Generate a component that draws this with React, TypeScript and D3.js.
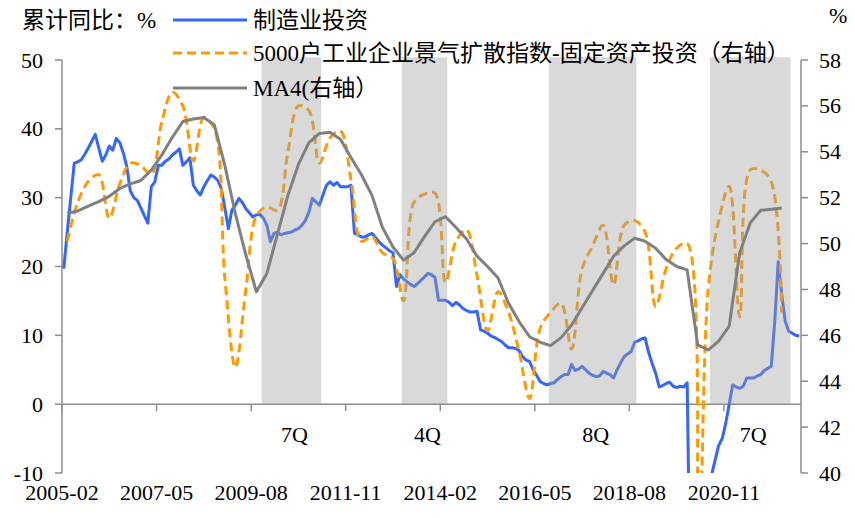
import React from 'react'
import * as d3 from 'd3'

// monthly categories 2005-02 .. 2022-08
const firstYear = 2005
const firstMonth = 2
const monthCount = 211
const months = d3.range(monthCount).map(i => {
  const t = firstMonth - 1 + i
  return `${firstYear + Math.floor(t / 12)}-${String((t % 12) + 1).padStart(2, '0')}`
})

const tickLabels = ['2005-02', '2007-05', '2009-08', '2011-11', '2014-02', '2016-05', '2018-08', '2020-11']
const leftTicks = [-10, 0, 10, 20, 30, 40, 50]
const rightTicks = [40, 42, 44, 46, 48, 50, 52, 54, 56, 58]

// 制造业投资 累计同比 (monthly)
const manufacturing = [
  19.7, 25.0, 30.0, 35.0, 35.2, 35.5, 36.3, 37.2, 38.2, 39.2,
  37.2, 35.3, 36.2, 37.5, 36.9, 38.6, 38.0, 36.5, 34.5, 31.0,
  30.0, 29.6, 28.5, 27.4, 26.3, 31.6, 32.3, 34.7, 34.7, 35.3,
  35.6, 36.2, 36.6, 37.1, 34.7, 35.2, 35.8, 31.8, 31.0, 30.4,
  31.6, 32.5, 33.3, 33.0, 32.5, 31.3, 28.5, 25.5, 28.2, 28.9,
  29.9, 29.3, 28.4, 27.8, 27.2, 27.5, 27.6, 27.0, 26.0, 23.6,
  24.8, 25.0, 24.6, 24.8, 24.9, 25.0, 25.3, 25.5, 26.0, 26.7,
  27.9, 29.9, 29.4, 28.9, 30.4, 31.8, 32.3, 31.8, 32.2, 31.6,
  31.6, 31.6, 31.8, 24.8, 24.6, 24.3, 24.3, 24.6, 24.8, 24.2,
  23.6, 23.1, 22.7, 22.3, 22.0, 17.1, 18.8, 18.2, 17.8, 17.4,
  17.1, 17.5, 18.0, 18.5, 19.0, 18.8, 18.4, 15.1, 15.1, 15.1,
  14.8, 14.3, 14.8, 14.4, 13.9, 13.6, 13.4, 13.4, 13.5, 10.8,
  10.6, 10.3, 9.9, 9.7, 9.4, 9.1, 8.6, 8.2, 8.2, 8.1,
  7.8, 6.9, 6.4, 6.2, 5.0, 4.2, 3.3, 3.0, 2.8, 3.0,
  3.1, 3.6, 4.0, 4.3, 4.3, 5.8, 4.9, 5.1, 5.5, 5.0,
  4.5, 4.2, 4.0, 4.1, 4.75, 4.5, 4.3, 3.8, 5.0, 6.0,
  6.9, 7.3, 7.65, 9.0, 9.2, 9.5, 9.6, 7.5, 5.9, 4.5,
  2.5, 2.7, 3.0, 3.2, 2.6, 2.4, 2.6, 2.5, 3.1, -31.5,
  -31.5, -25.2, -18.8, -14.8, -11.7, -10.2, -8.1, -6.0, -5.0, -2.8,
  0.0, 2.8, 2.5, 2.3, 2.6, 3.8, 3.8, 3.8, 4.1, 4.3,
  4.9, 5.2, 5.5, 12.0, 20.7, 15.9, 12.0, 10.6, 10.3, 10.0,
  9.9,
]

// 5000户工业企业景气扩散指数-固定资产投资 (quarterly, right axis)
const diffusion = [
  50.1, 51.8, 52.7, 53.0, 51.1, 52.6, 53.5, 53.4, 53.0, 55.3,
  56.6, 56.0, 53.6, 55.5, 55.0, 48.5, 44.6, 48.0, 51.2, 51.6,
  51.45, 54.0, 56.0, 55.8, 53.5, 54.6, 54.9, 52.8, 50.1, 50.3,
  49.6, 49.35, 47.5, 51.8, 52.15, 52.2, 48.3, 50.1, 50.6, 48.6,
  46.2, 47.9, 47.0, 45.3, 43.25, 46.3, 47.0, 47.4, 45.4, 48.9,
  49.9, 50.8, 48.2, 50.8, 51.0, 50.5, 47.25, 48.9, 49.8, 50.0,
  33.6, 48.0, 51.0, 52.5, 46.8, 53.2, 53.2, 52.7, 47.0,
]

// MA4 (quarterly, right axis)
const ma4 = [
  51.32, 51.42, 51.63, 51.83, 52.06, 52.4, 52.6, 52.75, 53.2, 53.86,
  54.63, 55.32, 55.43, 55.49, 55.17, 53.4, 51.3, 49.5, 47.9, 48.7,
  50.4, 52.1, 53.45, 54.4, 54.8, 54.85, 54.55, 53.75, 53.0, 52.1,
  50.7, 49.85, 49.28, 49.6, 50.3, 50.95, 51.17, 50.7, 50.2, 49.45,
  49.0, 48.5, 47.4, 46.6, 45.94, 45.7, 45.55, 45.9, 46.45, 47.2,
  47.95, 48.7, 49.45, 49.9, 50.23, 50.1, 49.8, 49.3, 49.0, 48.85,
  45.58, 45.36, 45.75, 46.4, 49.6, 50.9, 51.45, 51.5, 51.55,
]

// quarter-end months (2005-03, 2005-06, ...)
const quarterMonths = months.filter((_, i) => i % 3 === 1).slice(0, diffusion.length)

const shadePeriods = [
  { from: '2009-11', to: '2011-03', label: '7Q' },
  { from: '2013-03', to: '2014-03', label: '4Q' },
  { from: '2016-09', to: '2018-09', label: '8Q' },
  { from: '2020-07', to: '2022-05', label: '7Q' },
]
const shadeTop = 50.4

const W = 855
const H = 518
const left = 62
const right = 801
const top = 60
const bottom = 473

const FONT = "'Liberation Serif', 'Times New Roman', 'Noto Sans CJK SC', serif"
const BLUE = '#3366ff'
const ORANGE = '#ff9900'
const GRAY = '#808080'
const AXIS = '#8c8c8c'

export default function App() {
  const x = d3.scaleBand<string>().domain(months).range([left, right]).paddingInner(0).paddingOuter(0)
  const bw = x.bandwidth()
  const cx = (m: string) => (x(m) as number) + bw / 2
  const yL = d3.scaleLinear().domain([-10, 50]).range([bottom, top])
  const yR = d3.scaleLinear().domain([40, 58]).range([bottom, top])

  const blueLine = d3.line<number>()
    .x((_, i) => cx(months[i]))
    .y(d => yL(d))

  const orangeLine = d3.line<number>()
    .x((_, i) => cx(quarterMonths[i]))
    .y(d => yR(d))
    .curve(d3.curveCatmullRom.alpha(0.5))

  const grayLine = d3.line<number>()
    .x((_, i) => cx(quarterMonths[i]))
    .y(d => yR(d))

  const y0 = yL(0)

  return (
    <svg width={W} height={H} style={{ position: 'absolute', left: 0, top: 0, background: '#fff' }}
      fontFamily={FONT}>
      <defs>
        <clipPath id="plot-clip">
          <rect x={left} y={top - 5} width={right - left} height={bottom - top + 5} />
        </clipPath>
      </defs>

      {/* axes */}
      <line x1={left} x2={left} y1={top} y2={bottom} stroke={AXIS} strokeWidth={1.5} />
      <line x1={right} x2={right} y1={top} y2={bottom} stroke={AXIS} strokeWidth={1.5} />
      <line x1={left} x2={right} y1={y0} y2={y0} stroke={AXIS} strokeWidth={1.5} />

      {leftTicks.map(t => (
        <g key={'l' + t}>
          <line x1={left - 7} x2={left} y1={yL(t)} y2={yL(t)} stroke={AXIS} strokeWidth={1.5} />
          <text x={43} y={yL(t) + 7.5} textAnchor="end" fontSize={22} fill="#000">{t}</text>
        </g>
      ))}
      {rightTicks.map(t => (
        <g key={'r' + t}>
          <line x1={right} x2={right + 7} y1={yR(t)} y2={yR(t)} stroke={AXIS} strokeWidth={1.5} />
          <text x={819} y={yR(t) + 7.5} fontSize={22} fill="#000">{t}</text>
        </g>
      ))}
      {tickLabels.map(m => (
        <g key={m}>
          <line x1={x(m)} x2={x(m)} y1={y0} y2={y0 + 7} stroke={AXIS} strokeWidth={1.5} />
          <text x={x(m)} y={500} textAnchor="middle" fontSize={22} fill="#000">{m}</text>
        </g>
      ))}

      <g clipPath="url(#plot-clip)">
        <path d={blueLine(manufacturing) ?? ''} fill="none" stroke={BLUE} strokeWidth={3} strokeLinejoin="round" />
        <path d={orangeLine(diffusion) ?? ''} fill="none" stroke={ORANGE} strokeWidth={3} strokeDasharray="9,5" />
      </g>

      {/* shaded periods, drawn over blue/orange */}
      {shadePeriods.map((p, i) => {
        const x0 = x(p.from) as number
        const x1 = (x(p.to) as number) + bw
        return (
          <g key={i}>
            <rect x={x0} y={yL(shadeTop)} width={x1 - x0} height={y0 - yL(shadeTop)}
              fill="rgb(160,160,160)" fillOpacity={0.4} />
            <text x={(x0 + x1) / 2 + 3} y={442} textAnchor="middle" fontSize={22} fill="#000">{p.label}</text>
          </g>
        )
      })}

      <g clipPath="url(#plot-clip)">
        <path d={grayLine(ma4) ?? ''} fill="none" stroke={GRAY} strokeWidth={3} strokeLinejoin="round" />
      </g>

      {/* titles & legend */}
      <text x={22} y={28} fontSize={23} fill="#000">累计同比：%</text>
      <text x={829} y={23} fontSize={22} fill="#000">%</text>

      <line x1={173} x2={247} y1={20} y2={20} stroke={BLUE} strokeWidth={3} />
      <text x={253} y={28} fontSize={23} fill="#000">制造业投资</text>
      <line x1={173} x2={247} y1={53} y2={53} stroke={ORANGE} strokeWidth={3} strokeDasharray="9,5" />
      <text x={253} y={61} fontSize={23} fill="#000">5000户工业企业景气扩散指数-固定资产投资（右轴）</text>
      <line x1={173} x2={247} y1={88} y2={88} stroke={GRAY} strokeWidth={3} />
      <text x={253} y={96} fontSize={23} fill="#000">MA4(右轴）</text>
    </svg>
  )
}
